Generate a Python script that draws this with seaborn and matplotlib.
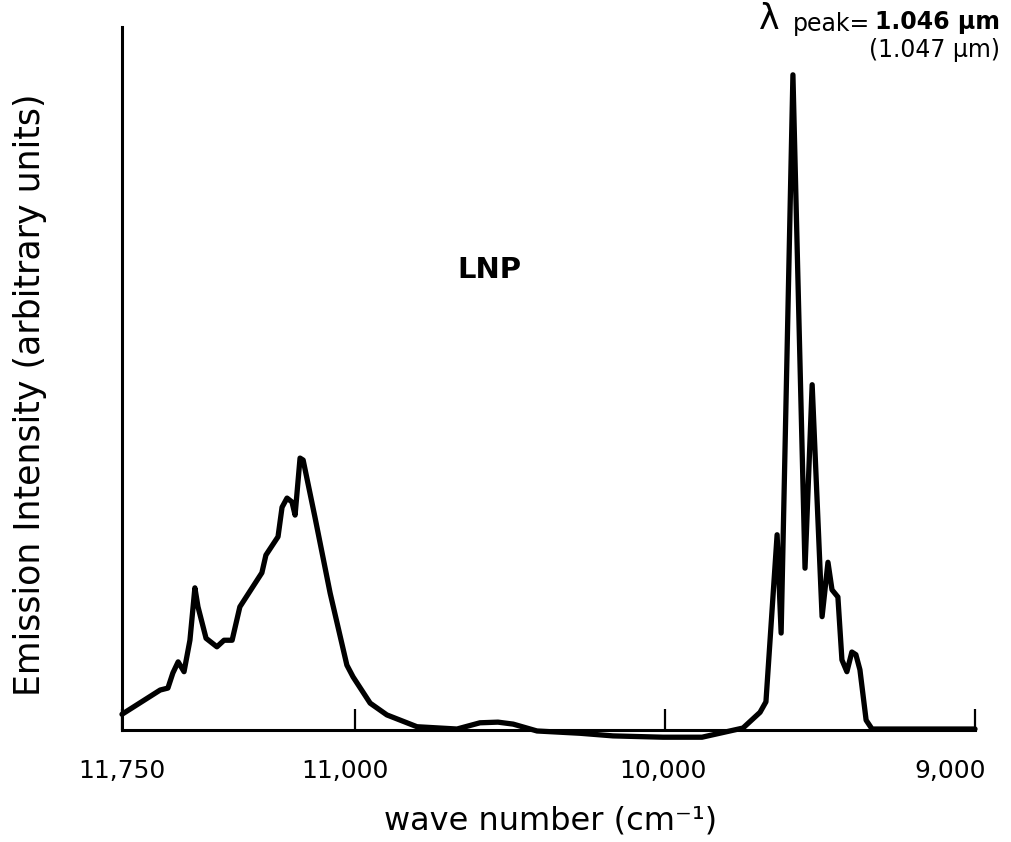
import numpy as np
import pandas as pd
import matplotlib
matplotlib.use("Agg")
import matplotlib.pyplot as plt
import matplotlib.transforms as mtransforms
import seaborn as sns

# Emission spectrum of LNP (wave number in cm^-1, intensity in arbitrary units)
wavenumber = [
    11750, 11627, 11602, 11586, 11569, 11550, 11531, 11515, 11505, 11479,
    11444, 11421, 11395, 11370, 11299, 11286, 11247, 11234, 11218, 11202,
    11192, 11176, 11166, 11128, 11079, 11025, 11005, 10950, 10896, 10799,
    10670, 10596, 10538, 10489, 10412, 10273, 10167, 10006, 9880, 9748,
    9693, 9674, 9638, 9625, 9587, 9548, 9525, 9493, 9474, 9461,
    9442, 9429, 9413, 9397, 9384, 9371, 9351, 9332, 9000,
]
intensity = [
    2.4, 6.1, 6.4, 8.7, 10.4, 8.9, 13.7, 21.7, 18.8, 14.0,
    12.7, 13.7, 13.7, 18.8, 24.0, 26.7, 29.5, 34.0, 35.4, 34.8,
    32.8, 41.5, 41.2, 32.5, 20.9, 9.9, 8.1, 4.1, 2.3, 0.5,
    0.15, 1.1, 1.2, 0.9, -0.15, -0.5, -0.9, -1.1, -1.1, 0.3,
    2.7, 4.3, 29.8, 14.8, 100.0, 24.7, 52.7, 17.3, 25.6, 21.4,
    20.3, 10.7, 8.9, 11.9, 11.5, 9.2, 1.5, 0.15, 0.15,
]
tick_values = [11750, 11000, 10000, 9000]
tick_labels = ["11,750", "11,000", "10,000", "9,000"]

df = pd.DataFrame({"wavenumber": wavenumber, "intensity": intensity})

sns.set_style("white")
plt.rcParams["font.family"] = ["DejaVu Sans"]
plt.rcParams["text.color"] = "black"
plt.rcParams["axes.labelcolor"] = "black"
plt.rcParams["xtick.color"] = "black"

fig = plt.figure(figsize=(10.12, 8.42), dpi=100)
ax = fig.add_axes([122 / 1012, 112 / 842, 853 / 1012, 703 / 842])

sns.lineplot(data=df, x="wavenumber", y="intensity", sort=False, ax=ax,
             color="black", linewidth=3.8, clip_on=False)

ax.set_xlim(11750, 9000)
ax.set_ylim(0, 107.3)

sns.despine(ax=ax, top=True, right=True)
for side in ("left", "bottom"):
    ax.spines[side].set_linewidth(2.2)
    ax.spines[side].set_color("black")

ax.set_xticks(tick_values)
ax.set_xticklabels(tick_labels, fontsize=18)
ax.set_yticks([])
ax.tick_params(axis="x", direction="in", length=15, width=1.6,
               color="black", pad=21, bottom=True)

# small horizontal nudges of individual tick labels
label_shift = [0, -10, -2, -25]
for lab, dx in zip(ax.get_xticklabels(), label_shift):
    lab.set_transform(lab.get_transform() +
                      mtransforms.ScaledTranslation(dx / 100, 0, fig.dpi_scale_trans))

ax.set_xlabel("wave number (cm⁻¹)", fontsize=23)
ax.xaxis.set_label_coords(0.502, -0.108)
ax.set_ylabel("Emission Intensity (arbitrary units)", fontsize=25)
ax.yaxis.set_label_coords(-0.088, 0.4765)

ax.text(10564, 70.2, "LNP", fontsize=21, fontweight="bold",
        ha="center", va="center")

# peak wavelength annotation
fig.text(769 / 1012, 1 - 19 / 842, "λ", fontsize=25, ha="center", va="center")
fig.text(870 / 1012, 1 - 31 / 842, "peak=", fontsize=17,
         ha="right", va="baseline")
fig.text(1000 / 1012, 1 - 29 / 842, "1.046 μm", fontsize=17,
         fontweight="bold", ha="right", va="baseline")
fig.text(1000 / 1012, 1 - 50 / 842, "(1.047 μm)", fontsize=17,
         ha="right", va="center")

fig.savefig("out.png", dpi=100)
